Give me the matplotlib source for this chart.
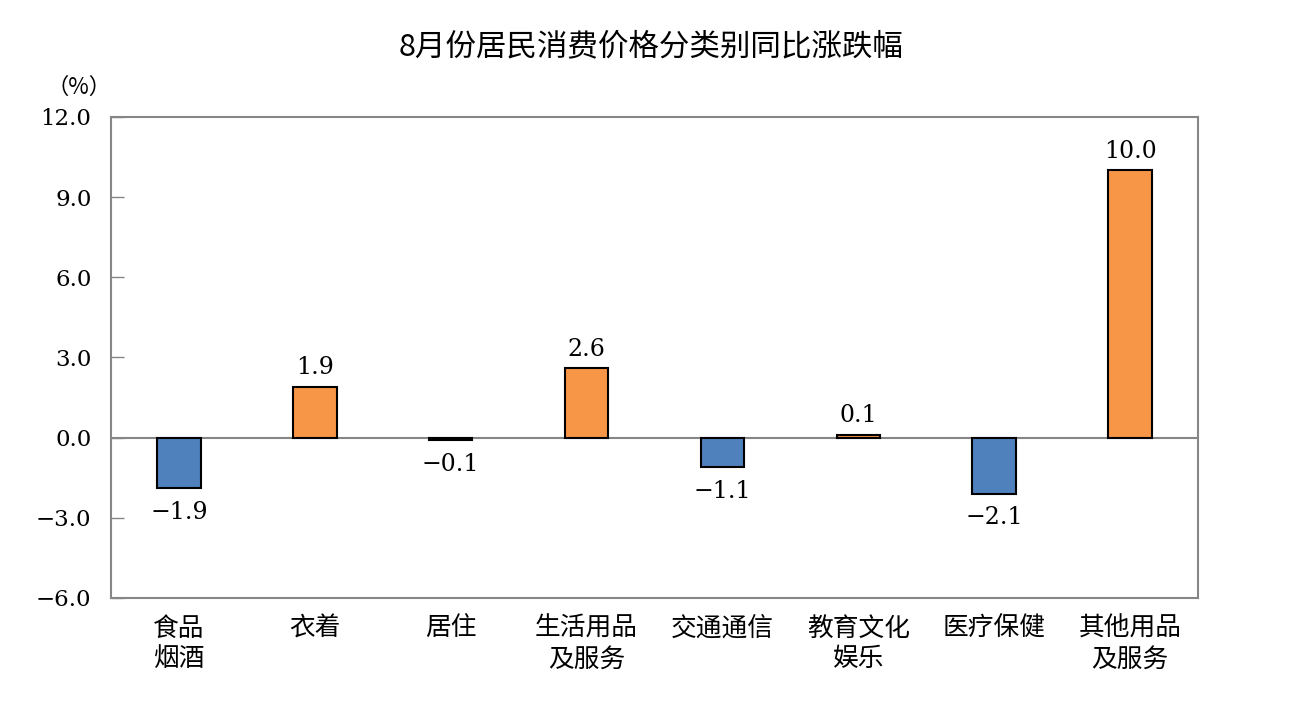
import numpy as np
import matplotlib.pyplot as plt

plt.rcParams['font.family'] = ['Noto Sans CJK SC', 'DejaVu Sans']

categories = ['食品\n烟酒', '衣着', '居住', '生活用品\n及服务', '交通通信', '教育文化\n娱乐', '医疗保健', '其他用品\n及服务']
values = [-1.9, 1.9, -0.1, 2.6, -1.1, 0.1, -2.1, 10.0]
yticks = [-6.0, -3.0, 0.0, 3.0, 6.0, 9.0, 12.0]

BLUE = '#4F81BD'
ORANGE = '#F79646'
GRAY = '#868686'
NUMFONT = ['DejaVu Serif']


def fmt(v):
    return ('%.1f' % v).replace('-', '\u2212')


def main():
    fig = plt.figure(figsize=(12.96, 7.03), dpi=100)
    ax = fig.add_axes([0.0856, 0.1494, 0.8388, 0.6842])

    x = np.arange(len(categories))
    colors = [BLUE if v < 0 else ORANGE for v in values]
    ax.bar(x, values, width=0.32, color=colors, edgecolor='black', linewidth=1.5, zorder=3)
    ax.axhline(0, color=GRAY, linewidth=1.5, zorder=2)

    # value labels, offset in pixels (dpi 100 -> 1pt = 1.389px)
    for xi, v in zip(x, values):
        if v < 0:
            off = -24 / 1.389
        else:
            off = 19 / 1.389
        ax.annotate(fmt(v), (xi, v), xytext=(0, off), textcoords='offset points',
                    ha='center', va='center', fontsize=17, family=NUMFONT)

    ax.set_xlim(-0.5, len(categories) - 0.5)
    ax.set_ylim(-6, 12)
    ax.set_yticks(yticks)
    ax.set_yticklabels([fmt(t) for t in yticks], fontsize=16.5, family=NUMFONT)
    ax.set_xticks(x)
    ax.set_xticklabels(categories, fontsize=18.5, linespacing=1.22, va='top')
    ax.tick_params(axis='y', direction='in', length=9, color=GRAY, width=1, pad=14)
    ax.tick_params(axis='x', length=0, pad=13)
    for s in ax.spines.values():
        s.set_color(GRAY)
        s.set_linewidth(1.5)

    fig.text(0.061, 0.86, '（%）', fontsize=16, ha='center', va='bottom')
    fig.suptitle('8月份居民消费价格分类别同比涨跌幅', x=0.502, y=0.955, fontsize=22, va='top')

    fig.savefig('out.png', dpi=100)


if __name__ == "__main__":
    main()
